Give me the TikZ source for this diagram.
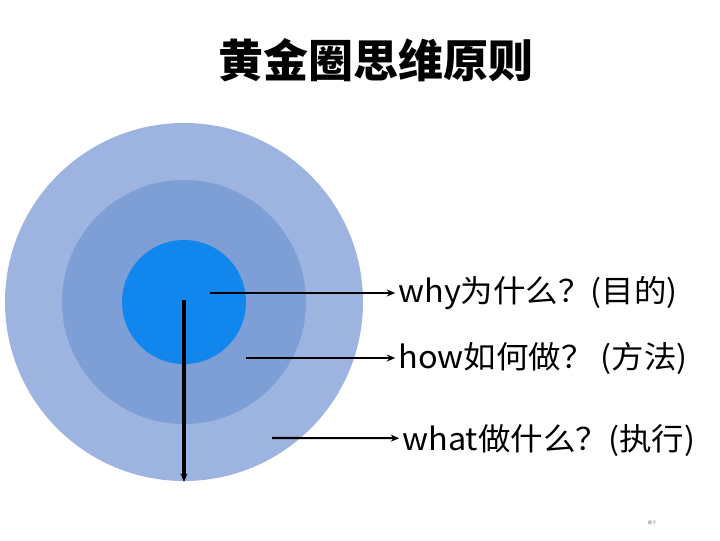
\documentclass[tikz,border=0pt]{standalone}
\usepackage{fontspec}
\setmainfont{Noto Sans CJK SC}
\usetikzlibrary{arrows.meta}
\definecolor{ringout}{HTML}{9DB4E0}
\definecolor{ringmid}{HTML}{7E9ED6}
\definecolor{ringin}{HTML}{1187EE}
\tikzset{
  ptr/.style={-{Stealth[length=6pt,width=5pt]},line width=1.5pt,shorten >=2pt},
  lbl/.style={anchor=west,font=\fontsize{22}{24}\selectfont,inner sep=0pt,
    xscale=1.05,transform shape}
}
\begin{document}
\begin{tikzpicture}[x=0.025cm,y=-0.025cm]
\useasboundingbox (0,0) rectangle (720,540);

\node[font=\fontsize{32}{35}\selectfont\bfseries] (title) at (376,60) {黄金圈思维原则};

\fill[ringout] (184,302) circle (179);
\fill[ringmid] (184,302) circle (122);
\fill[ringin] (184,302) circle (62);

\coordinate (why0) at (210,293);
\coordinate (how0) at (246,358);
\coordinate (what0) at (272,438);
\node[lbl] (why) at (398,293) {why为什么？(目的)};
\node[lbl] (how) at (398,358) {how如何做？ (方法)};
\node[lbl] (what) at (402,441) {what做什么？(执行)};

\draw[ptr] (why0) -- (why.west);
\draw[ptr] (how0) -- (how.west);
\draw[ptr] (what0) -- ([yshift=0.07cm]what.west);

\coordinate (down0) at (184,300);
\coordinate (down1) at (184,482);
\draw[-{Stealth[length=6pt,width=5pt]},line width=2.5pt] (down0) -- (down1);

\node[font=\fontsize{3}{3}\selectfont,text=gray] (mark) at (652,523) {娜子};

\end{tikzpicture}
\end{document}
